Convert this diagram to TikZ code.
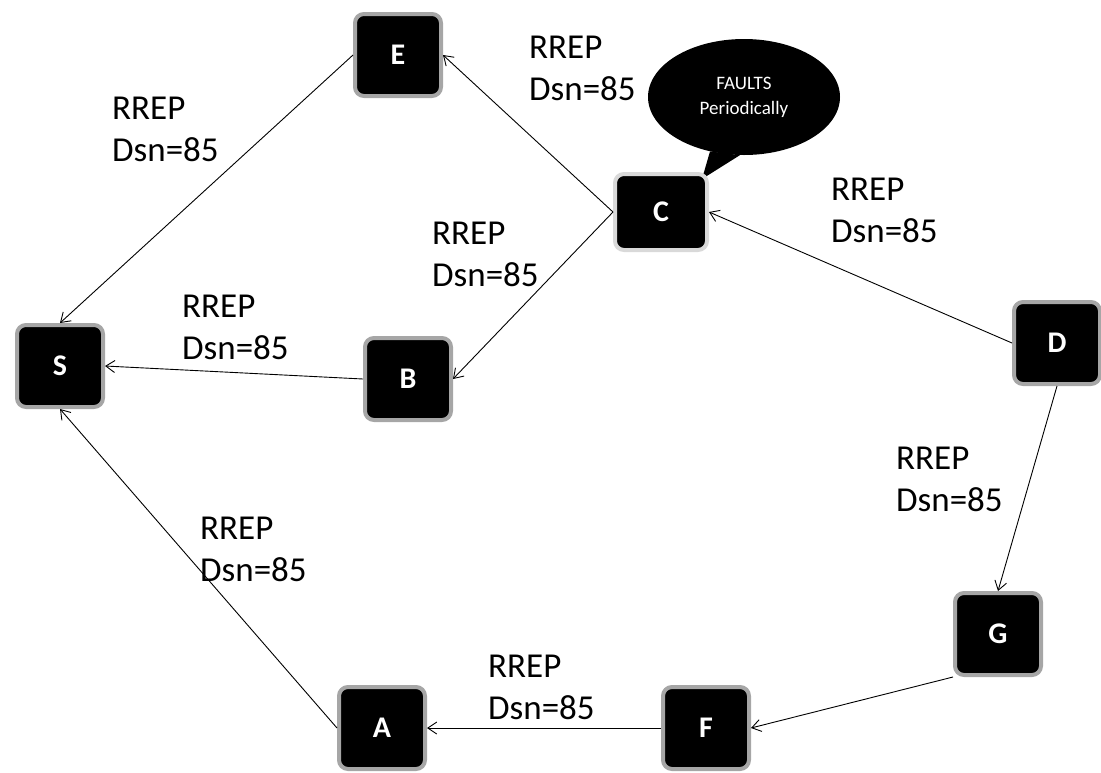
\documentclass[tikz,border=0pt]{standalone}
\usepackage{fontspec}
\setmainfont{Carlito}
\usetikzlibrary{arrows.meta,shapes.geometric}
\tikzset{
  netnode/.style={draw=black!35, line width=4pt, fill=black, rounded corners=9pt,
    minimum width=86pt, minimum height=82pt, inner sep=0pt, text=white,
    font=\fontsize{30}{30}\selectfont\bfseries},
  lbl/.style={align=left, inner sep=0pt, anchor=north west,
    font=\fontsize{35}{42}\selectfont},
  arr/.style={draw=black, line width=0.9pt, -{Straight Barb[length=9pt,width=12pt]}},
  bubblestyle/.style={ellipse, fill=black, minimum width=192pt, minimum height=116pt,
    inner sep=0pt, text=white, align=center, font=\fontsize{19}{25}\selectfont},
}
\begin{document}
\begin{tikzpicture}[x=1pt,y=-1pt]
\useasboundingbox (0,0) rectangle (1101,772);
% callout
\node[bubblestyle] (bubble) at (744,97) {FAULTS\\Periodically};
\coordinate (tip) at (702,179);
\fill[black] (bubble.238) -- (tip) -- (bubble.266) -- cycle;
% nodes
\node[netnode] (S) at (60,366) {S};
\node[netnode] (B) at (408,379) {B};
\node[netnode] (E) at (398,55) {E};
\node[netnode, draw=black!15, minimum width=92pt, minimum height=76pt] (C) at (661,212) {C};
\node[netnode] (D) at (1057,343) {D};
\node[netnode] (G) at (998,634) {G};
\node[netnode] (F) at (706,728) {F};
\node[netnode] (A) at (382,728) {A};
% connectors
\draw[arr] (E.west) -- (S.north);
\draw[arr] (C.west) -- (E.east);
\draw[arr] (C.west) -- (B.east);
\draw[arr] (B.west) -- (S.east);
\draw[arr] (D.west) -- (C.east);
\draw[arr] (D.south) -- (G.north);
\draw[arr] (G.south west) -- (F.east);
\draw[arr] (F.west) -- (A.east);
\draw[arr] (A.west) -- (S.south);
% labels
\node[lbl] (l1) at (112,97) {RREP\\Dsn=85};
\node[lbl] (l2) at (529,36) {RREP\\Dsn=85};
\node[lbl] (l3) at (831,178) {RREP\\Dsn=85};
\node[lbl] (l4) at (432,222) {RREP\\Dsn=85};
\node[lbl] (l5) at (182,295) {RREP\\Dsn=85};
\node[lbl] (l6) at (200,517) {RREP\\Dsn=85};
\node[lbl] (l7) at (896,447) {RREP\\Dsn=85};
\node[lbl] (l8) at (488,655) {RREP\\Dsn=85};
\end{tikzpicture}
\end{document}
